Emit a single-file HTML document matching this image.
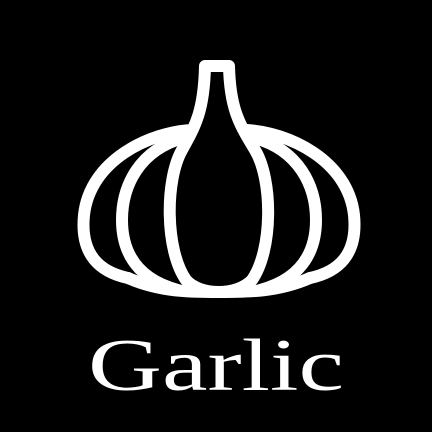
<!DOCTYPE html>
<html><head><style>
html,body{margin:0;padding:0;background:#000;}
svg{display:block;}
</style></head><body>
<svg width="432" height="432" viewBox="0 0 432 432" xmlns="http://www.w3.org/2000/svg">
<rect width="432" height="432" fill="#000"/>
<g fill="none" stroke="#fff" stroke-width="12" stroke-linejoin="round" stroke-linecap="round">
<path d="M205,66 L229,66 C230,110 240,125 255,150 C273,180 273,250 252,280 C237,296 200,296 186,280 C165,250 165,180 182,150 C196,125 204,110 205,66 Z"/>
<path d="M192,130 C150,132 90,160 84,215 C80,255 100,272 128,278"/>
<path d="M246,130 C288,132 348,160 354,215 C358,255 338,272 310,278"/>
<path d="M183,138 C140,150 122,185 122,220 C122,255 140,280 178,290"/>
<path d="M255,138 C298,150 316,185 316,220 C316,255 298,280 260,290"/>
<path d="M128,278 C160,292 190,292 219,292 C248,292 278,292 310,278"/>
</g>
<text x="216" y="390" text-anchor="middle" font-family="Liberation Serif, serif" font-size="74" fill="#fff" textLength="256" lengthAdjust="spacingAndGlyphs">Garlic</text>
</svg>
</body></html>
